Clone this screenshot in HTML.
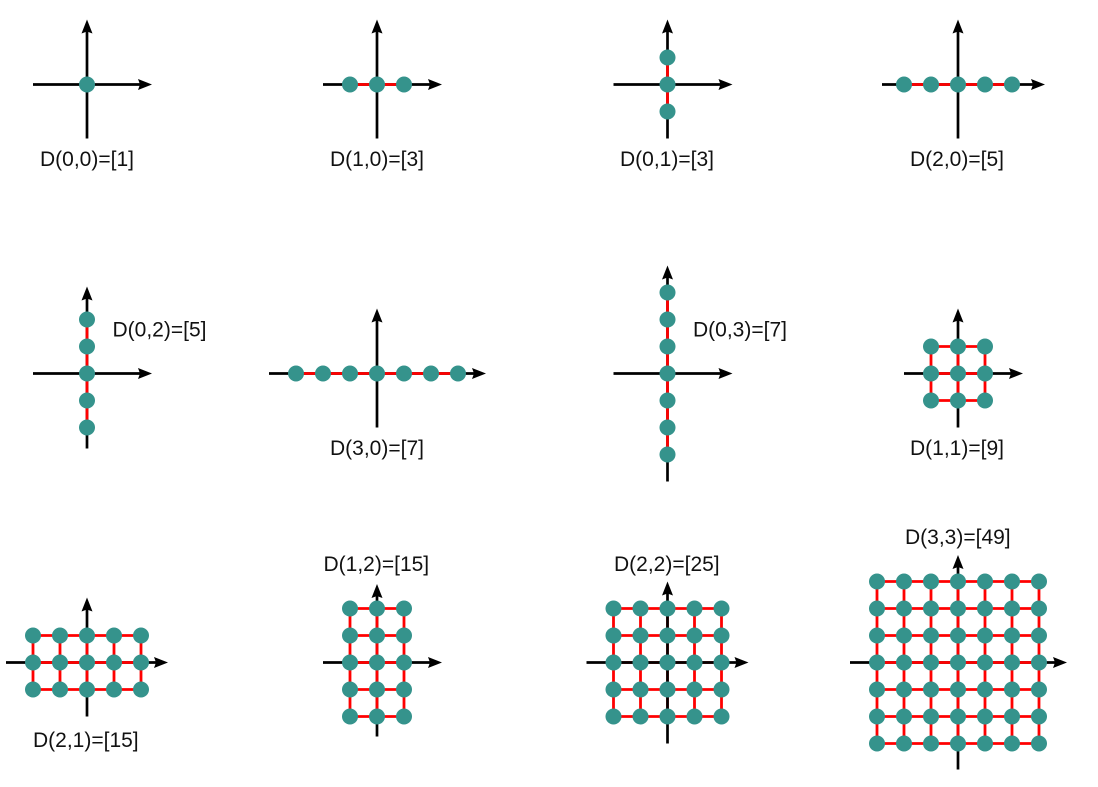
<!DOCTYPE html>
<html lang="en">
<head>
<meta charset="utf-8">
<title>Lattice dimension diagrams</title>
<style>
  html, body { margin: 0; padding: 0; background: #fff; }
  svg { display: block; }
  text { font-family: "Liberation Sans", sans-serif; font-size: 21px; fill: #111; }
</style>
</head>
<body>
<svg id="chart" width="1098" height="787" viewBox="0 0 1098 787" xmlns="http://www.w3.org/2000/svg"></svg>
<script>
// Data: each diagram's indices and its printed dimension
const xIndex = [0, 1, 0, 2, 0, 3, 0, 1, 2, 1, 2, 3];
const yIndex = [0, 0, 1, 0, 2, 0, 3, 1, 1, 2, 2, 3];
const printedValue = [1, 3, 3, 5, 5, 7, 7, 9, 15, 15, 25, 49];

// Layout only (panel centres, axis extents, label anchors)
const SPACING = 27;
const DOT_R = 8;
const panelLayout = [
  { cx: 87,    cy: 84.5,  l: 54,  r: 65,  u: 65,  d: 54,  lx: 40,  ly: 166 },
  { cx: 377,   cy: 84.5,  l: 54,  r: 65,  u: 65,  d: 54,  lx: 330, ly: 166 },
  { cx: 667.5, cy: 84.5,  l: 54,  r: 65,  u: 65,  d: 54,  lx: 620, ly: 166 },
  { cx: 958,   cy: 84.5,  l: 76,  r: 87,  u: 65,  d: 54,  lx: 910, ly: 166 },
  { cx: 87,    cy: 373.5, l: 54,  r: 65,  u: 87,  d: 75,  lx: 112.5, ly: 336.5 },
  { cx: 377,   cy: 373.5, l: 108, r: 109, u: 65,  d: 54,  lx: 330, ly: 455 },
  { cx: 667.5, cy: 373.5, l: 54,  r: 65,  u: 108, d: 108, lx: 693, ly: 336.5 },
  { cx: 958,   cy: 373.5, l: 54,  r: 65,  u: 65,  d: 54,  lx: 910, ly: 455 },
  { cx: 87,    cy: 662.5, l: 81,  r: 81,  u: 65,  d: 54,  lx: 33,  ly: 747 },
  { cx: 377,   cy: 662.5, l: 54,  r: 65,  u: 78.5, d: 74, lx: 323.5, ly: 571 },
  { cx: 667.5, cy: 662.5, l: 81,  r: 81,  u: 81,  d: 81,  lx: 614, ly: 571, axesOnTop: true },
  { cx: 958,   cy: 662.5, l: 108, r: 109, u: 107.5, d: 107, lx: 905, ly: 544 }
];

const NS = 'http://www.w3.org/2000/svg';
const svg = document.getElementById('chart');

function make(tag, attrs, parent) {
  const el = document.createElementNS(NS, tag);
  for (const k in attrs) el.setAttribute(k, attrs[k]);
  parent.appendChild(el);
  return el;
}
// Axis functions: lattice index -> pixel
function xScale(p, i) { return p.cx + i * SPACING; }
function yScale(p, j) { return p.cy - j * SPACING; }

function drawAxes(p, g) {
  const axisGroup = make('g', {}, g);
  
  

  const xAxis = make('line', { x1: p.cx - p.l, y1: p.cy, x2: p.cx + p.r - 8, y2: p.cy, stroke: '#000', 'stroke-width': 2.7 }, axisGroup);
  
  

  const xTip = p.cx + p.r;
  const xArrow = make('polygon', { points: `${xTip},${p.cy} ${xTip - 14},${p.cy - 5.5} ${xTip - 12},${p.cy} ${xTip - 14},${p.cy + 5.5}`, fill: '#000' }, axisGroup);
  
  

  const yAxis = make('line', { x1: p.cx, y1: p.cy + p.d, x2: p.cx, y2: p.cy - p.u + 8, stroke: '#000', 'stroke-width': 2.7 }, axisGroup);
  
  

  const yTip = p.cy - p.u;
  const yArrow = make('polygon', { points: `${p.cx},${yTip} ${p.cx - 5.5},${yTip + 14} ${p.cx},${yTip + 12} ${p.cx + 5.5},${yTip + 14}`, fill: '#000' }, axisGroup);
  
  
}

function drawEdges(p, nx, ny, g) {
  const edgeGroup = make('g', { stroke: '#ff0000', 'stroke-width': 2.8 }, g);
  
  
  for (let j = -ny; j <= ny; j++) {
    if (nx === 0) break;
    const h = make('line', { x1: xScale(p, -nx), y1: yScale(p, j), x2: xScale(p, nx), y2: yScale(p, j) }, edgeGroup);
    
    
  }
  for (let i = -nx; i <= nx; i++) {
    if (ny === 0) break;
    const v = make('line', { x1: xScale(p, i), y1: yScale(p, -ny), x2: xScale(p, i), y2: yScale(p, ny) }, edgeGroup);
    
    
  }
}

xIndex.forEach(function (nx, k) {
  const ny = yIndex[k];
  const p = panelLayout[k];
  const g = make('g', {}, svg);
  
  

  if (p.axesOnTop) {
    drawEdges(p, nx, ny, g);
    drawAxes(p, g);
  } else {
    drawAxes(p, g);
    drawEdges(p, nx, ny, g);
  }

  for (let j = -ny; j <= ny; j++) {
    for (let i = -nx; i <= nx; i++) {
      const dot = make('circle', { cx: xScale(p, i), cy: yScale(p, j), r: DOT_R, fill: '#35938c' }, g);
      
      
    }
  }

  const label = make('text', { x: p.lx, y: p.ly }, g);
  label.textContent = 'D(' + nx + ',' + ny + ')=[' + printedValue[k] + ']';
  
  
});
</script>
</body>
</html>
